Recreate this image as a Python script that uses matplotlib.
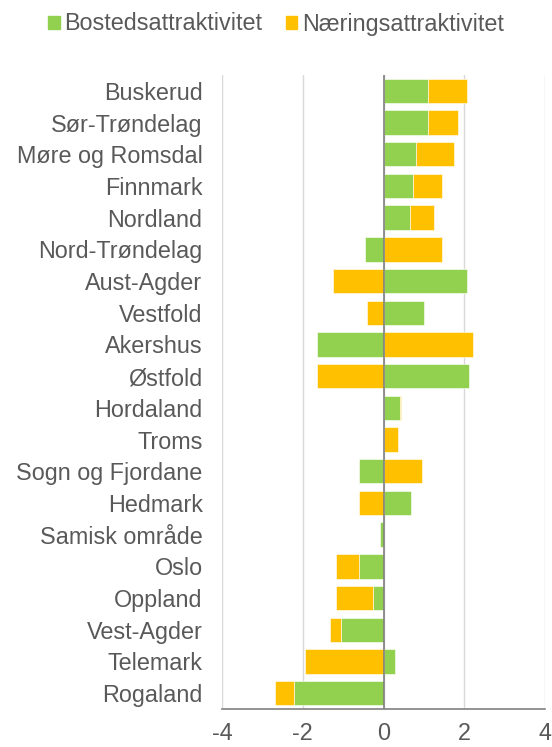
import matplotlib
matplotlib.use('Agg')
import matplotlib.pyplot as plt
import matplotlib.patches as mpatches
import numpy as np

# data, top to bottom as in the chart
regions = ['Buskerud', 'Sør-Trøndelag', 'Møre og Romsdal', 'Finnmark', 'Nordland',
           'Nord-Trøndelag', 'Aust-Agder', 'Vestfold', 'Akershus', 'Østfold',
           'Hordaland', 'Troms', 'Sogn og Fjordane', 'Hedmark', 'Samisk område',
           'Oslo', 'Oppland', 'Vest-Agder', 'Telemark', 'Rogaland']
bosted = [1.10, 1.10, 0.80, 0.74, 0.65,
          -0.46, 2.07, 1.00, -1.65, 2.12,
          0.42, 0.0, -0.61, 0.69, -0.09,
          -0.61, -0.27, -1.05, 0.28, -2.22]
naering = [0.97, 0.75, 0.94, 0.71, 0.61,
           1.45, -1.26, -0.41, 2.21, -1.64,
           0.02, 0.36, 0.95, -0.60, 0.0,
           -0.56, -0.90, -0.28, -1.95, -0.46]
xticks = [-4, -2, 0, 2, 4]

C_GREEN = '#92D050'
C_GOLD = '#FFC000'
C_TEXT = '#595959'
FS = 16.8

plt.rcParams['font.family'] = ['Liberation Sans', 'DejaVu Sans']

fig = plt.figure(figsize=(5.52, 7.47), dpi=100)
ax = fig.add_axes([222/552, 1 - 709/747, 323/552, 634/747])

b = np.array(bosted)
n = np.array(naering)
y = np.arange(len(regions))[::-1]
# Excel-style stacking: same sign stacks on top of green, opposite sign starts at 0
n_left = np.where(np.sign(n) == np.sign(b), b, 0.0)

ax.barh(y, b, height=0.77, color=C_GREEN, edgecolor='white', lw=0.4, zorder=3,
        label='Bostedsattraktivitet')
ax.barh(y, n, left=n_left, height=0.77, color=C_GOLD, edgecolor='white', lw=0.4, zorder=3,
        label='Næringsattraktivitet')

ax.set_xlim(-4, 4)
ax.set_ylim(-0.5, len(regions) - 0.5)
ax.set_xticks(xticks)
ax.set_xticklabels([str(t) for t in xticks])
ax.set_yticks(y)
ax.set_yticklabels(regions)
ax.tick_params(axis='y', length=0, pad=14, labelsize=FS, labelcolor=C_TEXT)
ax.tick_params(axis='x', length=0, pad=9, labelsize=FS, labelcolor=C_TEXT)

for s in ['top', 'right', 'left']:
    ax.spines[s].set_visible(False)
ax.spines['bottom'].set_color('#808080')
ax.spines['bottom'].set_linewidth(1.2)
ax.axvline(0, color='#808080', lw=1.2, zorder=4)
ax.grid(axis='x', color='#D9D9D9', lw=1.0, zorder=0)
ax.set_axisbelow(True)

handles = [mpatches.Patch(color=C_GREEN, label='Bostedsattraktivitet'),
           mpatches.Patch(color=C_GOLD, label='Næringsattraktivitet')]
leg = fig.legend(handles=handles, loc='center', bbox_to_anchor=(276/552, 1 - 24/747),
                 ncol=2, frameon=False, fontsize=FS, handlelength=0.5, handleheight=0.5,
                 handletextpad=0.2, columnspacing=1.0, borderaxespad=0)
for t in leg.get_texts():
    t.set_color(C_TEXT)

fig.savefig('out.png', dpi=100)
plt.close()
